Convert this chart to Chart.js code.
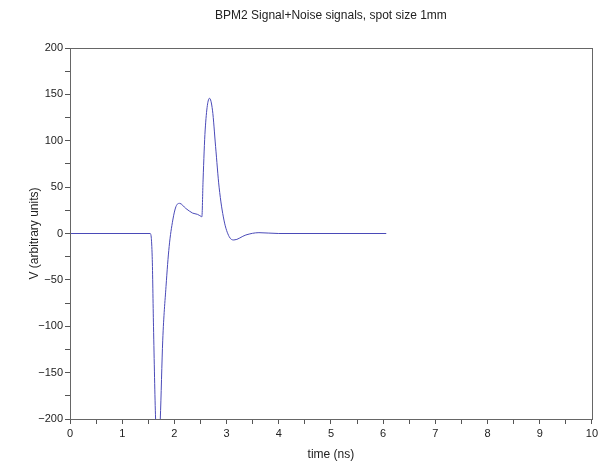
<html><head><meta charset="UTF-8"/>
<title>BPM2 Signal+Noise signals</title>
<script src="https://cdn.jsdelivr.net/npm/chart.js"></script>
<style>
* { margin: 0; padding: 0; }
body { background: #ffffff; width: 601px; height: 462px; overflow: hidden; }
#wrap { position: relative; width: 601px; height: 462px; }
</style>
</head>
<body>
<div id="wrap"><canvas id="chart" width="601" height="462"></canvas></div>
<script>
// values
const titleText = 'BPM2 Signal+Noise signals, spot size 1mm';
const xLabel = 'time (ns)';
const yLabel = 'V (arbitrary units)';
const timeNs = [0, 1.537, 1.575, 1.60, 1.64, 1.685, 1.73, 1.777, 1.84, 1.90, 1.97, 2.03, 2.10, 2.22, 2.35, 2.44, 2.51, 2.527, 2.55, 2.59, 2.673, 2.73, 2.79, 2.857, 2.95, 3.05, 3.14, 3.37, 3.62, 4.0, 6.06];
const volts  = [0, 0, -25, -100, -200, -245, -200, -115, -57, -14, 14.5, 29, 32.5, 27, 22, 20.7, 18.5, 18, 57.7, 111.6, 145.8, 133, 93.6, 50, 14.5, -3.4, -7, -1.6, 0.9, 0, 0];
const xTicks = [0, 10, 0.5];     // min, max, step
const yTicks = [-200, 200, 25];

const points = timeNs.map((t, i) => ({ x: t, y: volts[i] }));

function fmt(v) {
    return v < 0 ? '\u2212' + Math.abs(v) : String(v);
}

// box around the plot area and title centred over it
const frame = {
    id: 'frame',
    afterDraw(chart) {
        const c = chart.ctx, a = chart.chartArea;
        c.save();
        c.strokeStyle = '#666';
        c.lineWidth = 1;
        c.strokeRect(Math.round(a.left) + 0.5, Math.round(a.top) + 0.5, Math.round(a.right - a.left), Math.round(a.bottom - a.top));
        c.fillStyle = '#222';
        c.font = '12px "Liberation Sans", Arial, sans-serif';
        c.textAlign = 'center';
        c.textBaseline = 'middle';
        c.fillText(titleText, (a.left + a.right) / 2, 16);
        c.restore();
    }
};

new Chart(document.getElementById('chart'), {
    type: 'scatter',
    data: {
        datasets: [{
            data: points,
            showLine: true,
            borderColor: '#4a4ab8',
            borderWidth: 1,
            pointRadius: 0,
            cubicInterpolationMode: 'monotone'
        }]
    },
    options: {
        responsive: false,
        animation: false,
        layout: { padding: { left: 0, right: 6, top: 48, bottom: 0 } },
        plugins: { legend: { display: false }, tooltip: { enabled: false } },
        scales: {
            x: {
                type: 'linear',
                min: xTicks[0], max: xTicks[1],
                afterFit(s) { s.height = 43; },
                border: { color: '#666', width: 1 },
                grid: { drawOnChartArea: false, tickLength: 5, tickColor: '#555' },
                ticks: {
                    stepSize: xTicks[2], autoSkip: false, maxRotation: 0, padding: 3,
                    color: '#222', font: { family: '"Liberation Sans", Arial, sans-serif', size: 11 },
                    callback: v => Number.isInteger(v) ? fmt(v) : ''
                },
                title: {
                    display: true, text: xLabel, color: '#222', padding: { top: 0, bottom: 0 },
                    font: { family: '"Liberation Sans", Arial, sans-serif', size: 12 }
                }
            },
            y: {
                min: yTicks[0], max: yTicks[1],
                afterFit(s) { s.width = 70; },
                border: { color: '#666', width: 1 },
                grid: { drawOnChartArea: false, tickLength: 5, tickColor: '#555' },
                ticks: {
                    stepSize: yTicks[2], autoSkip: false, padding: 2,
                    color: '#222', font: { family: '"Liberation Sans", Arial, sans-serif', size: 11 },
                    callback: v => v % 50 === 0 ? fmt(v) : ''
                },
                title: {
                    display: true, text: yLabel, color: '#222', padding: { top: 27, bottom: 0 },
                    font: { family: '"Liberation Sans", Arial, sans-serif', size: 12 }
                }
            }
        }
    },
    plugins: [frame]
});
</script>
</body></html>
